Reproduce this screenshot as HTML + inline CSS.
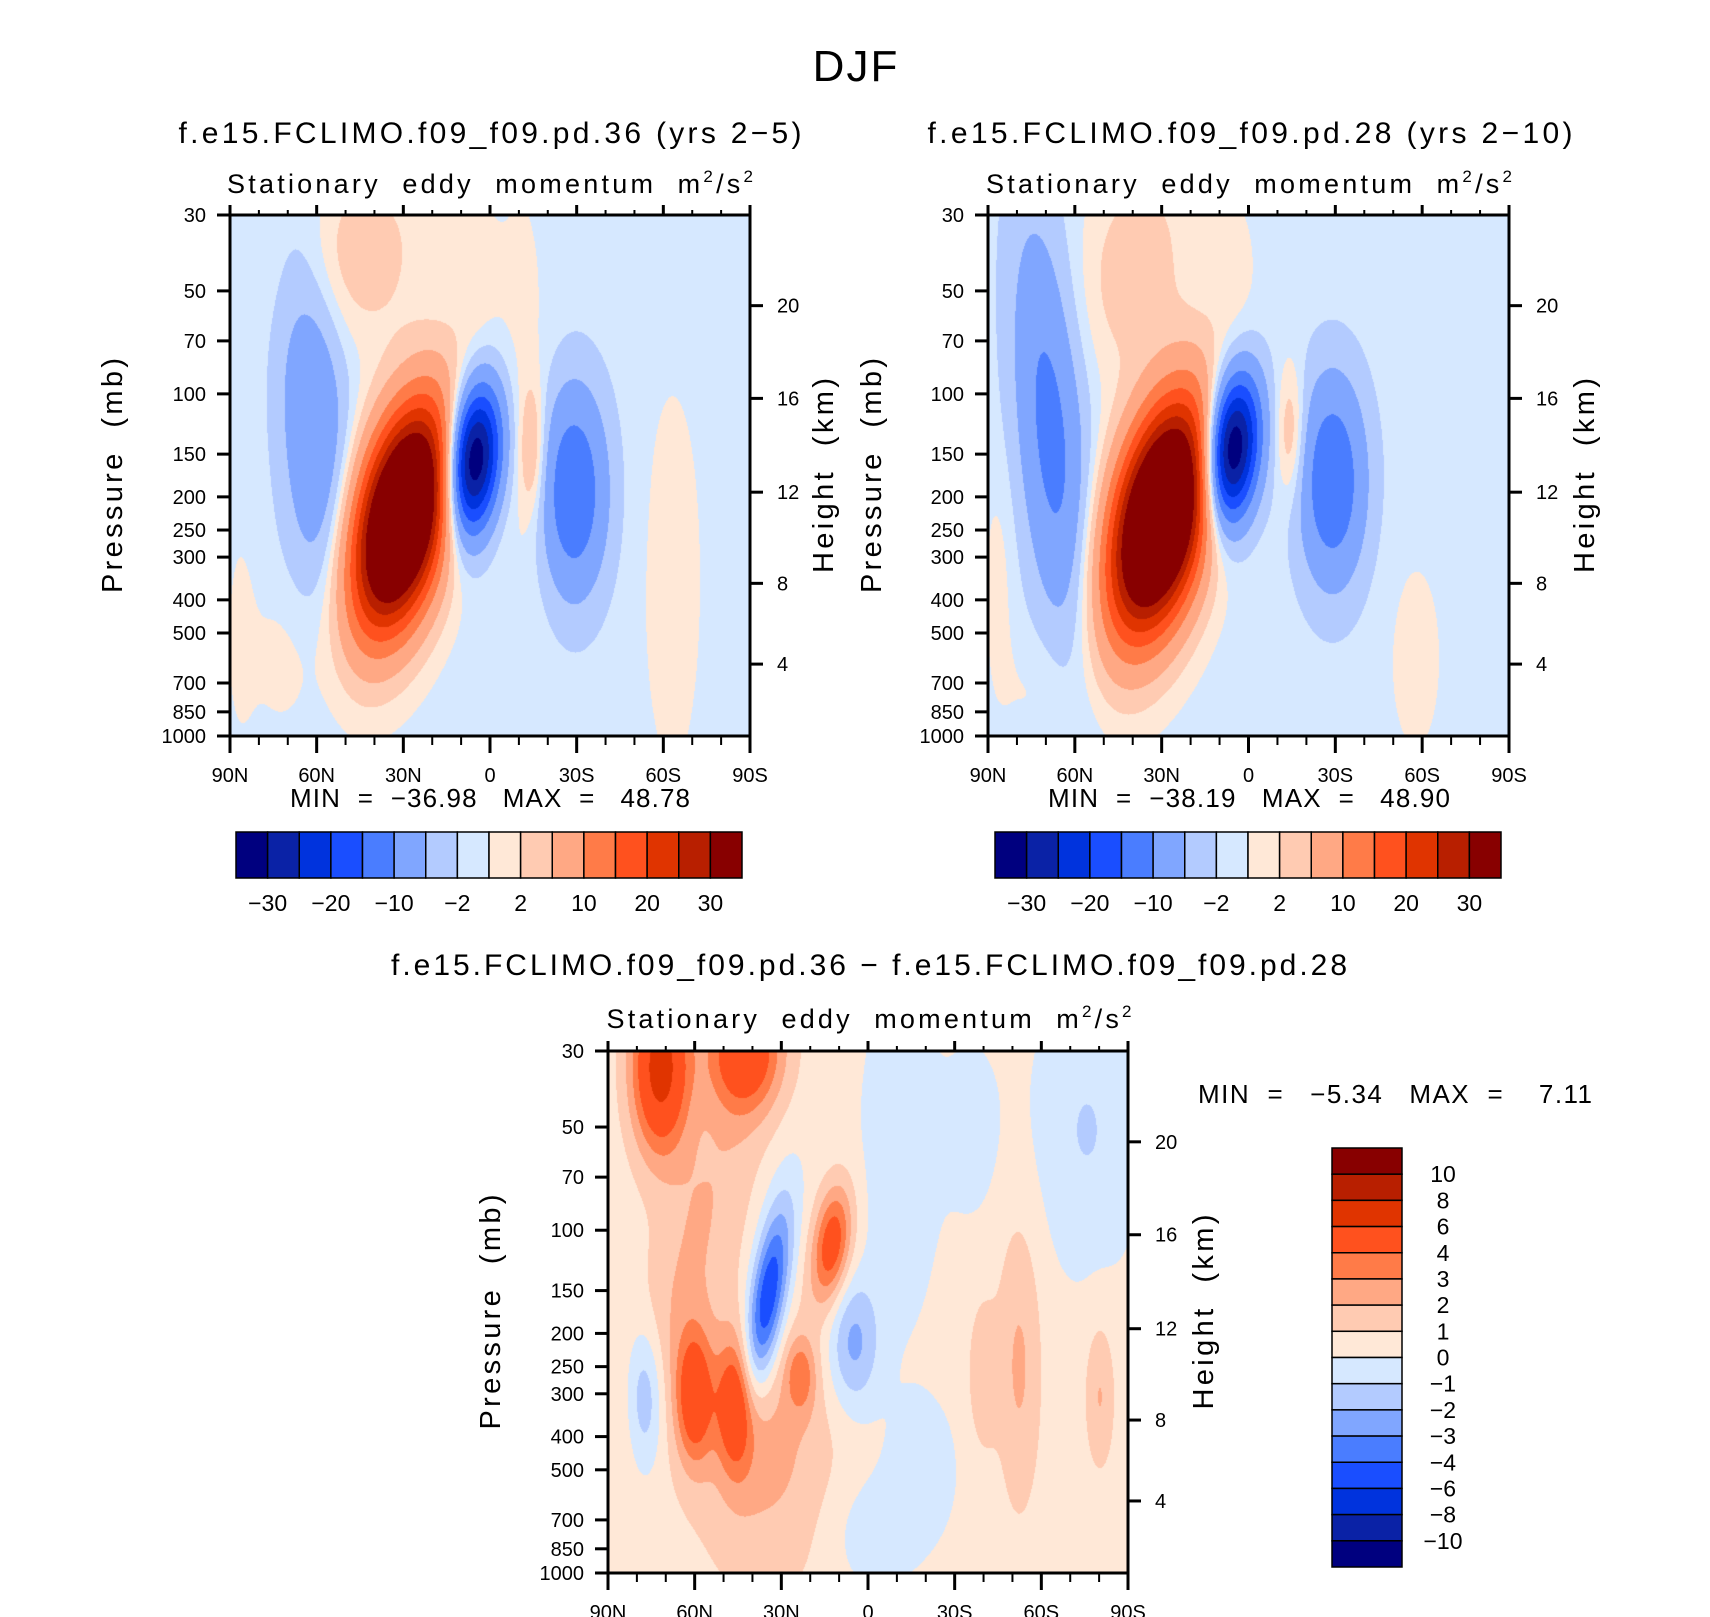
<!DOCTYPE html>
<html><head><meta charset="utf-8">
<style>
html,body{margin:0;padding:0;background:#fff;}
#wrap{position:relative;width:1710px;height:1617px;overflow:hidden;background:#fff;}
canvas{position:absolute;}
svg{position:absolute;left:0;top:0;}
text{font-family:"Liberation Sans",sans-serif;fill:#000;white-space:pre;}
</style></head>
<body>
<div id="wrap">
<canvas id="c1"></canvas>
<canvas id="c2"></canvas>
<canvas id="c3"></canvas>
<svg id="s" width="1710" height="1617"></svg>
</div>
<script>
// ---- data: blob components of each field (u = lat fraction from 90N, v = log-pressure fraction from 30mb) ----
const p1U   = [0.33, 0.24, 0.466, 0.66, 0.16, 0.58, 0.56, 0.85, 0.47, 0.10, 0.02];
const p1V   = [0.58, 0.08, 0.47, 0.53, 0.40, 0.45, 0.40, 0.70, 0.12, 0.85, 0.80];
const p1Amp = [56, 4.5, -38, -14, -9, 6, 1.6, 1.6, 1.6, 1.4, 1.2];
const p1Su  = [0.060, 0.09, 0.036, 0.045, 0.045, 0.018, 0.04, 0.045, 0.03, 0.05, 0.02];
const p1Sv  = [0.150, 0.12, 0.10, 0.14, 0.24, 0.09, 0.35, 0.30, 0.10, 0.10, 0.15];
const p1Tilt= [-0.18, -0.1, -0.08, 0, 0.05, 0, 0, 0, 0, 0, 0];
const p1Base = -0.8;

const p2U   = [0.33, 0.28, 0.466, 0.66, 0.12, 0.58, 0.02, 0.47, 0.82, 0.10];
const p2V   = [0.58, 0.10, 0.45, 0.51, 0.42, 0.42, 0.70, 0.10, 0.85, 0.90];
const p2Amp = [57, 4.5, -39, -14, -11, 6, 1.6, 1.5, 1.5, 1.3];
const p2Su  = [0.062, 0.07, 0.036, 0.045, 0.045, 0.02, 0.02, 0.03, 0.04, 0.05];
const p2Sv  = [0.155, 0.14, 0.10, 0.14, 0.28, 0.09, 0.15, 0.10, 0.15, 0.08];
const p2Tilt= [-0.18, -0.1, -0.08, 0, 0.08, 0, 0, 0, 0, 0];
const p2Base = -0.8;

const p3U   = [0.10, 0.26, 0.17, 0.30, 0.165, 0.245, 0.07, 0.305, 0.43, 0.37, 0.47, 0.56, 0.92, 0.50, 0.79, 0.72, 0.945, 0.60, 0.70];
const p3V   = [0.03, 0.00, 0.35, 0.75, 0.66, 0.68, 0.66, 0.48, 0.37, 0.62, 0.56, 0.20, 0.15, 0.92, 0.60, 0.62, 0.66, 0.80, 0.15];
const p3Amp = [6.5, 4.8, 1.6, 2.0, 4.5, 4.5, -2.8, -6.0, 4.6, 2.4, -2.8, -1.2, -1.4, -1.0, 1.8, 1.5, 1.7, -0.9, -0.8];
const p3Su  = [0.04, 0.05, 0.06, 0.10, 0.025, 0.025, 0.025, 0.026, 0.026, 0.02, 0.035, 0.05, 0.07, 0.06, 0.03, 0.02, 0.02, 0.05, 0.04];
const p3Sv  = [0.12, 0.08, 0.30, 0.20, 0.09, 0.09, 0.10, 0.13, 0.08, 0.05, 0.09, 0.22, 0.18, 0.08, 0.20, 0.10, 0.10, 0.10, 0.12];
const p3Tilt= [0, 0, -0.3, 0, 0, 0, 0, -0.15, -0.1, 0, 0, 0, 0, 0, 0, 0, 0, 0, 0];
const p3Base = 0.35;

const topLevels = [-30,-25,-20,-15,-10,-5,-2,0,2,5,10,15,20,25,30];
const topLabels = ['−30','−20','−10','−2','2','10','20','30'];
const diffLevels = [-10,-8,-6,-4,-3,-2,-1,0,1,2,3,4,6,8,10];
const diffLabels = ['10','8','6','4','3','2','1','0','−1','−2','−3','−4','−6','−8','−10'];
const latLabels = ['90N','60N','30N','0','30S','60S','90S'];
const presTicks = [30,50,70,100,150,200,250,300,400,500,700,850,1000];
const heightTicks = [20,16,12,8,4];
const heightFrac = [0.174,0.352,0.532,0.707,0.862];
const colors = ['#00007f','#0a22a6','#0033dd','#1a4eff','#4a7dff','#80a6ff','#b3cbff','#d6e8ff',
                '#ffe8d7','#ffcbb2','#ffa884','#ff7b48','#ff511e','#e03400','#b81f00','#880000'];

const NS='http://www.w3.org/2000/svg';
const svg=document.getElementById('s');
function el(tag,attrs,parent){const e=document.createElementNS(NS,tag);for(const k in attrs)e.setAttribute(k,attrs[k]);(parent||svg).appendChild(e);return e;}
function txt(x,y,s,size,anchor,extra){const t=el('text',Object.assign({x:x,y:y,'font-size':size,'text-anchor':anchor||'middle'},extra||{}));t.textContent=s;return t;}
function hex(c){return [parseInt(c.substr(1,2),16),parseInt(c.substr(3,2),16),parseInt(c.substr(5,2),16)];}
const rgb=colors.map(hex);

function drawField(id,x0,y0,x1,y1,U,V,A,Su,Sv,T,base,levels){
  const c=document.getElementById(id);const w=x1-x0,h=y1-y0;
  c.width=w;c.height=h;c.style.left=x0+'px';c.style.top=y0+'px';
  const ctx=c.getContext('2d');const img=ctx.createImageData(w,h);
  for(let y=0;y<h;y++){const v=y/h;for(let x=0;x<w;x++){const u=x/w;let val=base;
    for(let i=0;i<U.length;i++){const dv=v-V[i];const du=u-U[i]-T[i]*dv;
      val+=A[i]*Math.exp(-(du*du/(2*Su[i]*Su[i])+dv*dv/(2*Sv[i]*Sv[i])));}
    let k=0;while(k<levels.length&&val>=levels[k])k++;
    const col=rgb[k];const o=(y*w+x)*4;img.data[o]=col[0];img.data[o+1]=col[1];img.data[o+2]=col[2];img.data[o+3]=255;}}
  ctx.putImageData(img,0,0);
}
function pfrac(p){return Math.log(p/30)/Math.log(1000/30);}

function axes(x0,y0,x1,y1,pTitleX,hTitleX,pre){
  const w=x1-x0,h=y1-y0;
  el('rect',{x:x0,y:y0,width:w,height:h,fill:'none',stroke:'#000','stroke-width':3});
  for(let i=0;i<=18;i++){const x=x0+w*i/18;const major=i%3===0;const L=major?10:5;
    el('line',{x1:x,y1:y0,x2:x,y2:y0-L,stroke:'#000','stroke-width':major?3:2});
    el('line',{x1:x,y1:y1,x2:x,y2:y1+(major?17:9),stroke:'#000','stroke-width':major?3:2});
  }
  latLabels.forEach((s,i)=>{const t=txt(x0+w*i/6,y1+46,s,20);});
  presTicks.forEach(p=>{const y=y0+h*pfrac(p);
    el('line',{x1:x0,y1:y,x2:x0-13,y2:y,stroke:'#000','stroke-width':3});
    const t=txt(x0-24,y+7,String(p),20,'end');});
  heightTicks.forEach((z,i)=>{const y=y0+h*heightFrac[i];
    el('line',{x1:x1,y1:y,x2:x1+13,y2:y,stroke:'#000','stroke-width':3});
    const t=txt(x1+27,y+7,String(z),20,'start');});
  const yc=(y0+y1)/2;
  const pt=txt(pTitleX,yc,'Pressure  (mb)',29,'middle',{transform:'rotate(-90 '+pTitleX+' '+yc+')',textLength:235,lengthAdjust:'spacing'});
  
  const ht=txt(hTitleX,yc,'Height  (km)',29,'middle',{transform:'rotate(-90 '+hTitleX+' '+yc+')',textLength:195,lengthAdjust:'spacing'});
  
}
function subtitle(cx,y,len,pre){
  const t=el('text',{x:cx,y:y,'font-size':27,'text-anchor':'middle',textLength:len,lengthAdjust:'spacing'});
  t.appendChild(document.createTextNode('Stationary  eddy  momentum  m'));
  const a=el('tspan',{'font-size':17,dy:-11},t);a.textContent='2';
  const b=el('tspan',{dy:11},t);b.textContent='/s';
  const c=el('tspan',{'font-size':17,dy:-11},t);c.textContent='2';
  
}
function hbar(x0,y0,x1,y1,pre){
  const n=colors.length,bw=(x1-x0)/n;
  colors.forEach((c,i)=>{const r=el('rect',{x:x0+i*bw,y:y0,width:bw,height:y1-y0,fill:c,stroke:'#000','stroke-width':1.5});
    });
  topLabels.forEach((s,j)=>{const i=1+2*j;const t=txt(x0+i*bw,y1+33,s,23);});
}

drawField('c1',230,215,750,736,p1U,p1V,p1Amp,p1Su,p1Sv,p1Tilt,p1Base,topLevels);
drawField('c2',988,215,1509,736,p2U,p2V,p2Amp,p2Su,p2Sv,p2Tilt,p2Base,topLevels);
drawField('c3',608,1051,1128,1573,p3U,p3V,p3Amp,p3Su,p3Sv,p3Tilt,p3Base,diffLevels);

let t;
t=txt(856,81,'DJF',44,'middle',{'letter-spacing':'2'});
t=el('text',{x:490,y:143,'font-size':30,'text-anchor':'middle',textLength:623,lengthAdjust:'spacing'});t.textContent='f.e15.FCLIMO.f09_f09.pd.36 (yrs 2−5)';

t=el('text',{x:1250,y:143,'font-size':30,'text-anchor':'middle',textLength:645,lengthAdjust:'spacing'});t.textContent='f.e15.FCLIMO.f09_f09.pd.28 (yrs 2−10)';

t=el('text',{x:869,y:975,'font-size':30,'text-anchor':'middle',textLength:956,lengthAdjust:'spacing'});t.textContent='f.e15.FCLIMO.f09_f09.pd.36 − f.e15.FCLIMO.f09_f09.pd.28';


subtitle(490,193,526,'panel1');
subtitle(1249,193,526,'panel2');
subtitle(869,1028,525,'difference');

axes(230,215,750,736,122,833,'panel1');
axes(988,215,1509,736,881,1594,'panel2');
axes(608,1051,1128,1573,500,1213,'difference');

t=el('text',{x:490,y:807,'font-size':26,'text-anchor':'middle',textLength:400,lengthAdjust:'spacing'});t.textContent='MIN  =  −36.98   MAX  =   48.78';

t=el('text',{x:1249,y:807,'font-size':26,'text-anchor':'middle',textLength:402,lengthAdjust:'spacing'});t.textContent='MIN  =  −38.19   MAX  =   48.90';

t=el('text',{x:1198,y:1103,'font-size':26,'text-anchor':'start',textLength:394,lengthAdjust:'spacing'});t.textContent='MIN  =   −5.34   MAX  =    7.11';


hbar(236,832,742,878,'panel1');
hbar(995,832,1501,878,'panel2');

(function(){const x0=1332,x1=1402,y0=1148,y1=1567,n=colors.length,bh=(y1-y0)/n;
  for(let i=0;i<n;i++){const c=colors[n-1-i];const r=el('rect',{x:x0,y:y0+i*bh,width:x1-x0,height:bh,fill:c,stroke:'#000','stroke-width':1.5});
    }
  diffLabels.forEach((s,j)=>{const t=txt(1443,y0+(j+1)*bh+8,s,23,'middle');});
})();
</script>
</body></html>
